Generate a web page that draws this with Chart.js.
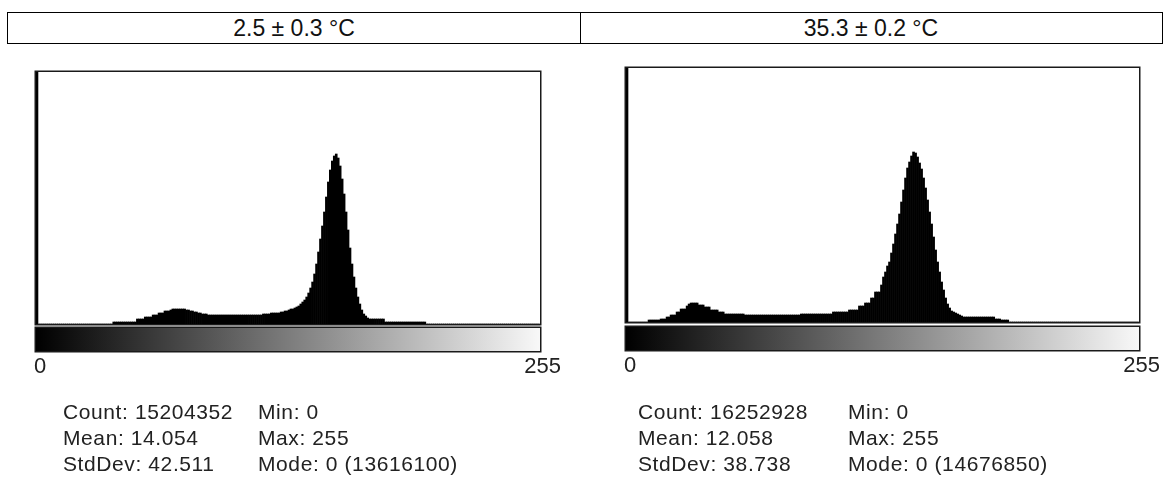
<!DOCTYPE html>
<html>
<head>
<meta charset="utf-8">
<script src="https://cdn.jsdelivr.net/npm/chart.js@4.4.1/dist/chart.umd.min.js"></script>
<style>
  html, body { margin: 0; padding: 0; background: #fff; }
  body { width: 1170px; height: 491px; position: relative; overflow: hidden; font-family: "Liberation Sans", Arial, sans-serif; color: #111; }
  #hdr { position: absolute; left: 7px; top: 12px; width: 1154px; height: 30px; border: 1.5px solid #000; display: flex; }
  #hdr div { flex: 0 0 auto; display: flex; align-items: center; justify-content: center; font-size: 23px; padding-top: 1px; }
  #h1 { width: 572px; border-right: 1.5px solid #000; }
  #h2 { width: 580px; }
  canvas { position: absolute; top: 0; }
  #c1 { left: 0; }
  #c2 { left: 590px; }
  .stat { position: absolute; font-size: 21px; line-height: 26px; color: #222; letter-spacing: 0.6px; white-space: pre; }
</style>
</head>
<body>
<div id="hdr"><div id="h1"></div><div id="h2"></div></div>
<canvas id="c1" width="590" height="491"></canvas>
<canvas id="c2" width="580" height="491"></canvas>
<div class="stat" id="s1a" style="left:63px;top:399px;"></div>
<div class="stat" id="s1b" style="left:258px;top:399px;"></div>
<div class="stat" id="s2a" style="left:638px;top:399px;"></div>
<div class="stat" id="s2b" style="left:848px;top:399px;"></div>
<script>
// ---------- data ----------
const panelTitles = ['2.5 \u00b1 0.3 \u00b0C', '35.3 \u00b1 0.2 \u00b0C'];
const tickLabels = ['0', '255'];
const yMaxLeft = 252;
const yMaxRight = 254;
// histogram heights per grey level (0..255), relative units as read; bin 0 (mode) is off-scale / clipped
const leftCounts = [
  300, 0,0,0,0,0,0,0,0,0, 0,0,0,0,0,0,0,0,0,0,
  0,0,0,0,0,0,0,0,0,0, 0,0,0,0,0,0,0,0,0, 2,
  2,2,2,2,2,2,2,2,2,2, 2, 5,5,5,5, 7,7,7,7, 9,
  9,9, 11,11,11, 13,13,13, 14,15,15,15,15,15,15,15,
  14,14, 13,13,12,12,11, 11,10,10,10, 9,9,9,9,9,
  9,9,9,9,9,9,9,9,9,9, 9,9,9,9,9,9,9,9,9,9,
  9,9,9, 10,10,10,10,11,11,11,11,11, 12,12,13,13, 14,15,15, 16,17,18,
  20,22,24,27,31,36,42,50,60,72, 85,98,112,127,142,154,163,168,170,166,
  158,145,130,112,94,76,60,47,36,27, 20,14,10,8,6,5,5,5,5,5,
  5,5,5,2,2,2,2,2,2,2, 2,2,2,2,2,2,2,2,2,2,
  2,2,2,2,0,0,0,0,0,0, 0,0,0,0,0,0,0,0,0,0,
  0,0,0,0,0,0,0,0,0,0, 0,0,0,0,0,0,0,0,0,0,
  0,0,0,0,0,0,0,0,0,0, 0,0,0,0,0,0,0,0,0,0,
  0,0,0,0,0,0,0,0,0,0, 0,0,0,0,0,0,0,0,0,0,
  0,0,0,0,0,0
];
const rightCounts = [
  300, 0,0,0,0,0,0,0,0,0, 0, 2,2,2,2,2,2, 3,3,3,
  5,5, 7,7,7, 10,10, 13,13,13, 16, 18,19,19,19,19, 17,17,17, 15,
  15,15, 12,12,12,12, 10,10,10, 8,8,8,8,8,8,8,8,8,8,
  7,7,7,7,7,7,7,7,7,7, 7,7,7,7,7,7,7,7,7,7,
  7,7,7,7,7,7,7,7, 8,8,8,8,8,8,8,8,8,8, 8,8,8,8,8,8,
  10,10,10,10,10,10,10,10, 12,12,12,12,12, 16,16,16, 19,19,19,
  24,24, 30,30,30, 37, 45,50, 56,60, 69,78,88,98,108,120,132,144,154,160,
  166,170,169,165,159,153,144,134,122,110, 98,85,72,60,50,40,32,24,18,14,
  11,10,9,8,7,6, 5,5,5,5,5,5,5,5,5,5,5,5,5,5,5,5,
  3,3,3, 2,2,2,2, 0,0,0,0,0,0,0,0,0,0,0,0,0,0,0,0,0,0,0,
  0,0,0,0,0,0,0,0,0,0, 0,0,0,0,0,0,0,0,0,0,
  0,0,0,0,0,0,0,0,0,0, 0,0,0,0,0,0,0,0,0,0,
  0,0,0,0,0,0,0,0,0,0, 0,0,0,0,0,0,0,0,0,0,
  0,0,0,0,0,0,0,0
];
const statsLeft1 = ['Count: 15204352', 'Mean: 14.054', 'StdDev: 42.511'];
const statsLeft2 = ['Min: 0', 'Max: 255', 'Mode: 0 (13616100)'];
const statsRight1 = ['Count: 16252928', 'Mean: 12.058', 'StdDev: 38.738'];
const statsRight2 = ['Min: 0', 'Max: 255', 'Mode: 0 (14676850)'];

// ---------- page text ----------
document.getElementById('h1').textContent = panelTitles[0];
document.getElementById('h2').textContent = panelTitles[1];
document.getElementById('s1a').textContent = statsLeft1.join('\n');
document.getElementById('s1b').textContent = statsLeft2.join('\n');
document.getElementById('s2a').textContent = statsRight1.join('\n');
document.getElementById('s2b').textContent = statsRight2.join('\n');

const grey = Array.from({length: 256}, (_, i) => String(i));

const frameAndRamp = {
  id: 'frameAndRamp',
  afterDatasetsDraw(chart, args, opts) {
    const ctx = chart.ctx;
    const a = chart.chartArea;
    ctx.save();
    // frame
    ctx.strokeStyle = '#1a1a1a';
    ctx.lineWidth = 1.5;
    ctx.strokeRect(a.left - 0.75, a.top - 0.75, a.right - a.left + 1.5, a.bottom - a.top + 1.5);
    // grey ramp
    const y0 = a.bottom + opts.rampGap;
    const h = 23;
    const g = ctx.createLinearGradient(a.left, 0, a.right, 0);
    g.addColorStop(0, '#000000');
    g.addColorStop(1, '#f8f8f8');
    ctx.fillStyle = g;
    ctx.fillRect(a.left, y0, a.right - a.left, h);
    ctx.strokeRect(a.left - 0.75, y0 - 0.75, a.right - a.left + 1.5, h + 1.5);
    // end labels
    ctx.fillStyle = '#222';
    ctx.font = '22px "Liberation Sans", Arial, sans-serif';
    ctx.textBaseline = 'middle';
    ctx.textAlign = 'left';
    ctx.fillText(tickLabels[0], a.left - 2, y0 + h + 16);
    ctx.textAlign = 'right';
    ctx.fillText(tickLabels[1], a.right + 21, y0 + h + 16);
    ctx.restore();
  }
};

function makeHist(id, values, yMax, padding, rampGap) {
  return new Chart(document.getElementById(id), {
    type: 'bar',
    data: {
      labels: grey,
      datasets: [{
        data: values,
        backgroundColor: '#000',
        borderWidth: 0,
        barPercentage: 1.0,
        categoryPercentage: 1.0
      }]
    },
    options: {
      responsive: false,
      animation: false,
      devicePixelRatio: 1,
      layout: { padding: padding },
      scales: {
        x: { display: false },
        y: { display: false, min: 0, max: yMax }
      },
      plugins: {
        legend: { display: false },
        tooltip: { enabled: false },
        frameAndRamp: { rampGap: rampGap }
      }
    },
    plugins: [frameAndRamp]
  });
}

makeHist('c1', leftCounts, yMaxLeft, { left: 36, top: 72, right: 50, bottom: 167 }, 4);
makeHist('c2', rightCounts, yMaxRight, { left: 36, top: 68, right: 31, bottom: 169 }, 5);
</script>
</body>
</html>
